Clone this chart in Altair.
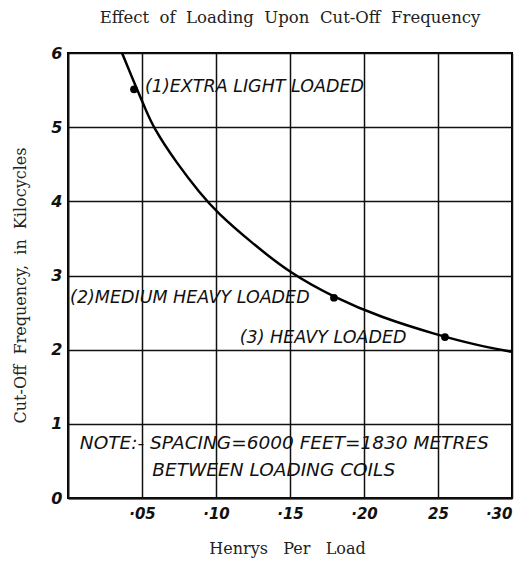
import altair as alt
import pandas as pd

# Curve (Henrys per load, cut-off frequency in kc)
curve_x = [0.0365, 0.0466, 0.0514, 0.0574, 0.0736, 0.0892, 0.1007, 0.123, 0.150, 0.1804, 0.2108, 0.2493, 0.2764, 0.300]
curve_y = [6.00, 5.51, 5.29, 5.00, 4.51, 4.11, 3.85, 3.46, 3.03, 2.70, 2.44, 2.20, 2.06, 1.97]

# Marked loading points
point_x = [0.0446, 0.1797, 0.2547]
point_y = [5.51, 2.70, 2.17]

# Curve annotations (anchor at left/middle)
label_text = ["(1)EXTRA LIGHT LOADED", "(2)MEDIUM HEAVY LOADED", "(3) HEAVY LOADED"]
label_x = [0.052, 0.0014, 0.116]
label_y = [5.54, 2.70, 2.16]

# Note box text
note_text = ["NOTE:- SPACING=6000 FEET=1830 METRES", "BETWEEN LOADING COILS"]
note_x = [0.008, 0.057]
note_y = [0.74, 0.38]

x_tick_values = [0.05, 0.10, 0.15, 0.20, 0.25, 0.30]
x_tick_labels = ["·05", "·10", "·15", "·20", "25", "·30"]
y_tick_values = [0, 1, 2, 3, 4, 5, 6]

curve_df = pd.DataFrame({"x": curve_x, "y": curve_y})
pts_df = pd.DataFrame({"x": point_x, "y": point_y})
labels_df = pd.DataFrame({"label": label_text, "x": label_x, "y": label_y})
notes_df = pd.DataFrame({"label": note_text, "x": note_x, "y": note_y})

label_expr = " : ".join(
    [f"abs(datum.value - {v}) < 0.001 ? '{l}'" for v, l in zip(x_tick_values, x_tick_labels)]
) + " : ''"

NB = "\u00a0"
xscale = alt.Scale(domain=[0, 0.30], nice=False, zero=False)
yscale = alt.Scale(domain=[0, 6], nice=False)

x_axis = alt.Axis(values=x_tick_values, labelExpr=label_expr, title=f"Henrys{NB*3}Per{NB*3}Load",
                  grid=True, ticks=False, labelPadding=8, labelFontSize=15, labelFont="DejaVu Sans",
                  labelFontStyle="italic", labelFontWeight="bold", labelColor="#111",
                  titleFont="DejaVu Serif", titleFontSize=16, titleFontWeight="normal", titleColor="#222",
                  titleX=219, titleY=50, titleBaseline="middle")
y_axis = alt.Axis(values=y_tick_values, format="d",
                  title=f"Cut-Off{NB*2}Frequency,{NB*2}in{NB*2}Kilocycles",
                  grid=True, ticks=False, labelPadding=6, labelFontSize=16, labelFont="DejaVu Sans",
                  labelFontStyle="italic", labelFontWeight="bold", labelColor="#111",
                  titleFont="DejaVu Serif", titleFontSize=16, titleFontWeight="normal", titleColor="#222",
                  titleX=-48, titleY=232, titleAlign="center", titleBaseline="middle")

line = alt.Chart(curve_df).mark_line(color="black", strokeWidth=2.5, interpolate="basis").encode(
    x=alt.X("x:Q", scale=xscale, axis=x_axis),
    y=alt.Y("y:Q", scale=yscale, axis=y_axis),
)
points = alt.Chart(pts_df).mark_circle(color="black", opacity=1, size=60).encode(
    x=alt.X("x:Q", scale=xscale), y=alt.Y("y:Q", scale=yscale)
)
labels = alt.Chart(labels_df).mark_text(align="left", baseline="middle", font="DejaVu Sans",
                                        fontSize=17.5, fontStyle="italic", color="#111").encode(
    x=alt.X("x:Q", scale=xscale), y=alt.Y("y:Q", scale=yscale), text="label:N"
)
notes = alt.Chart(notes_df).mark_text(align="left", baseline="middle", font="DejaVu Sans",
                                      fontSize=18.5, fontStyle="italic", color="#111").encode(
    x=alt.X("x:Q", scale=xscale), y=alt.Y("y:Q", scale=yscale), text="label:N"
)

chart = alt.layer(line, points, labels, notes).properties(
    width=444, height=445,
    autosize=alt.AutoSizeParams(type="none"),
    padding={"left": 60, "top": 45, "right": 4, "bottom": 60},
    title=alt.TitleParams(f"Effect{NB*2}of{NB*2}Loading{NB*2}Upon{NB*2}Cut-Off{NB*2}Frequency",
                          font="DejaVu Serif", fontSize=16.5, fontWeight="normal", color="#222",
                          anchor="middle", offset=19),
).configure_view(stroke="black", strokeWidth=2).configure_axis(
    gridColor="#111", gridWidth=1.5, gridOpacity=1, domainColor="#111", domainWidth=2
)

chart.save("out.html", embed_options={"renderer": "svg", "actions": False})
